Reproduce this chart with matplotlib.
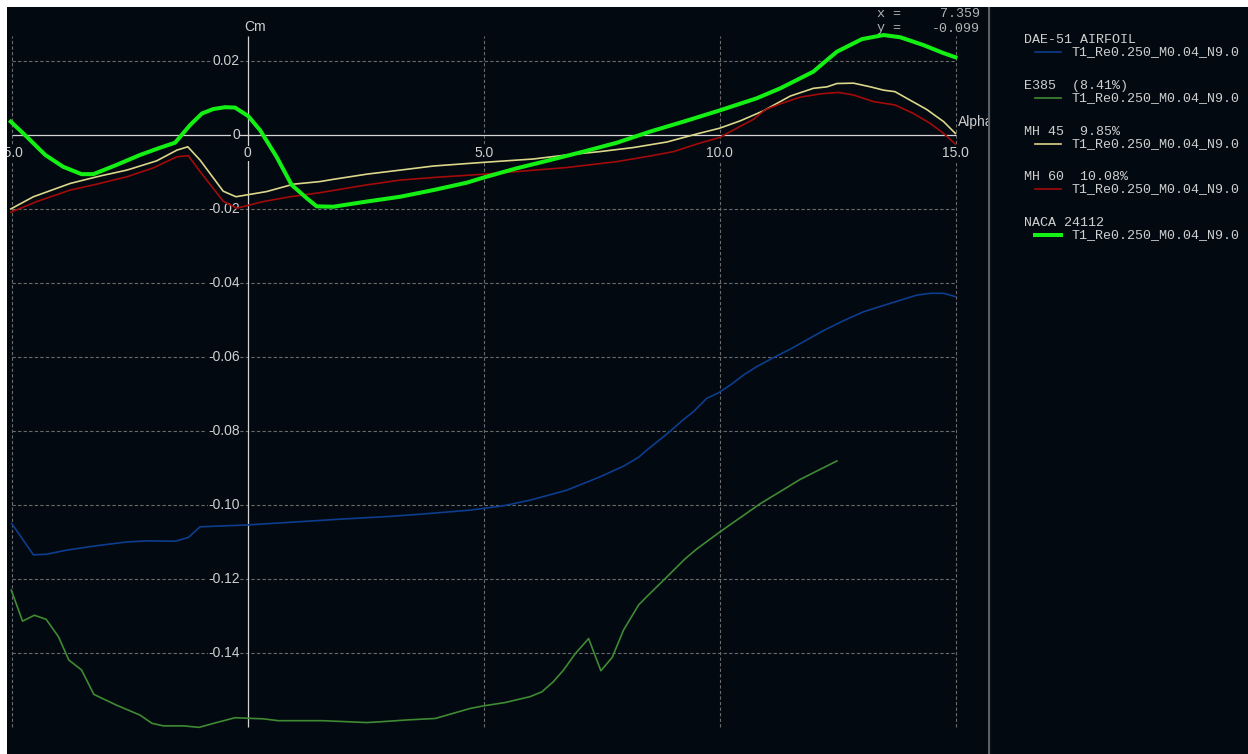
import matplotlib
matplotlib.use("Agg")
import matplotlib.pyplot as plt
from matplotlib.patches import Rectangle
from matplotlib.transforms import offset_copy

# Cm vs alpha polars, Re 250k
dae51_alpha = [-5.0, -4.54, -4.26, -3.83, -3.2, -2.56, -2.14, -1.54, -1.26, -1.01, -0.02, 1.0, 2.0, 3.0,
               3.65, 4.71, 5.42, 5.98, 6.76, 7.46, 7.96, 8.28, 8.45, 8.88, 9.23, 9.44, 9.72, 9.97, 10.22,
               10.5, 10.78, 11.21, 11.49, 11.77, 12.19, 12.62, 13.04, 13.61, 14.17, 14.46, 14.74, 14.99]
dae51_cm = [-0.1049, -0.1134, -0.1132, -0.1121, -0.1109, -0.1099, -0.1096, -0.1097, -0.1087, -0.1058,
            -0.1053, -0.1045, -0.1037, -0.1030, -0.1024, -0.1013, -0.1001, -0.0986, -0.0959, -0.0923,
            -0.0894, -0.0870, -0.0851, -0.0807, -0.0768, -0.0747, -0.0711, -0.0696, -0.0675, -0.0648,
            -0.0625, -0.0596, -0.0578, -0.0558, -0.0528, -0.0501, -0.0477, -0.0454, -0.0432, -0.0427,
            -0.0427, -0.0436]

e385_alpha = [-5.01, -4.77, -4.52, -4.27, -4.01, -3.79, -3.52, -3.26, -2.78, -2.28, -2.03, -1.79, -1.36,
              -1.03, -0.66, -0.27, 0.33, 0.65, 1.6, 2.52, 2.8, 3.37, 3.97, 4.71, 4.99, 5.45, 5.98, 6.23,
              6.47, 6.69, 6.93, 7.22, 7.48, 7.72, 7.96, 8.28, 8.45, 8.81, 9.26, 9.51, 10.01, 10.85, 11.7,
              12.48]
e385_cm = [-0.1229, -0.1313, -0.1297, -0.1308, -0.1355, -0.1418, -0.1445, -0.1511, -0.1540, -0.1567,
           -0.1589, -0.1596, -0.1596, -0.1600, -0.1587, -0.1574, -0.1577, -0.1582, -0.1582, -0.1587,
           -0.1585, -0.1580, -0.1576, -0.1549, -0.1542, -0.1533, -0.1517, -0.1504, -0.1477, -0.1445,
           -0.1402, -0.1360, -0.1447, -0.1411, -0.1337, -0.1269, -0.1247, -0.1202, -0.1145, -0.1118,
           -0.1071, -0.0996, -0.0930, -0.0880]

mh45_alpha = [-5.02, -4.54, -3.76, -3.13, -2.56, -1.93, -1.5, -1.27, -1.01, -0.52, -0.25, 0.4, 0.97,
              1.53, 1.81, 2.52, 3.23, 3.93, 5.0, 6.05, 6.76, 7.46, 8.17, 8.88, 9.55, 9.99, 10.43, 10.92,
              11.49, 11.98, 12.27, 12.48, 12.83, 13.19, 13.47, 13.71, 13.96, 14.38, 14.74, 14.99]
mh45_cm = [-0.0199, -0.0166, -0.0130, -0.0110, -0.0094, -0.0069, -0.0040, -0.0031, -0.0067, -0.0151,
           -0.0166, -0.0152, -0.0132, -0.0125, -0.0119, -0.0105, -0.0094, -0.0083, -0.0073, -0.0064,
           -0.0053, -0.0044, -0.0033, -0.0018, 0.0005, 0.0019, 0.0039, 0.0066, 0.0106, 0.0127, 0.0131,
           0.0140, 0.0141, 0.0131, 0.0122, 0.0118, 0.0100, 0.0070, 0.0037, 0.0005]

mh60_alpha = [-5.02, -4.47, -3.76, -3.2, -2.56, -2.0, -1.5, -1.26, -1.01, -0.52, -0.23, 0.33, 0.9, 1.53,
              2.52, 3.23, 3.93, 5.0, 5.7, 6.76, 7.82, 8.52, 9.02, 9.55, 9.99, 10.43, 10.71, 10.96, 11.28,
              11.7, 12.13, 12.51, 12.83, 13.26, 13.71, 14.1, 14.46, 14.74, 14.99]
mh60_cm = [-0.0208, -0.0179, -0.0148, -0.0132, -0.0112, -0.0088, -0.0058, -0.0055, -0.0098, -0.0178,
           -0.0197, -0.0179, -0.0166, -0.0155, -0.0134, -0.0121, -0.0114, -0.0105, -0.0098, -0.0087,
           -0.0071, -0.0056, -0.0044, -0.0022, -0.0006, 0.0024, 0.0043, 0.0069, 0.0085, 0.0103, 0.0112,
           0.0116, 0.0109, 0.0091, 0.0082, 0.0059, 0.0032, 0.0005, -0.0024]

naca_alpha = [-5.02, -4.68, -4.29, -3.91, -3.52, -3.27, -2.78, -2.28, -1.89, -1.54, -1.22, -0.97, -0.73,
              -0.48, -0.27, 0.01, 0.26, 0.61, 0.93, 1.25, 1.46, 1.81, 2.52, 3.23, 3.93, 4.64, 5.0, 5.7,
              6.4, 7.11, 7.82, 8.52, 9.23, 9.99, 10.78, 11.28, 11.98, 12.19, 12.48, 13.01, 13.47, 13.82,
              14.31, 14.74, 14.99]
naca_cm = [0.0037, -0.0004, -0.0053, -0.0085, -0.0105, -0.0105, -0.0080, -0.0053, -0.0035, -0.0020,
           0.0028, 0.0059, 0.0071, 0.0076, 0.0075, 0.0052, 0.0014, -0.0058, -0.0134, -0.0170, -0.0192,
           -0.0193, -0.0179, -0.0166, -0.0148, -0.0128, -0.0114, -0.0089, -0.0067, -0.0044, -0.0020,
           0.0010, 0.0037, 0.0067, 0.0100, 0.0127, 0.0172, 0.0195, 0.0226, 0.0260, 0.0271, 0.0265,
           0.0244, 0.0222, 0.0211]

foils = ["DAE-51 AIRFOIL", "E385  (8.41%)", "MH 45  9.85%", "MH 60  10.08%", "NACA 24112"]
polar_name = "T1_Re0.250_M0.04_N9.0"
colors = ["#0d3d8e", "#3f8a33", "#dcd68a", "#a30a0a", "#14f014"]
widths = [1.2, 1.2, 1.2, 1.2, 2.9]

x_ticks = [-5.0, 0.0, 5.0, 10.0, 15.0]
x_labels = ["-5.0", "0", "5.0", "10.0", "15.0"]
y_ticks = [0.02, 0.0, -0.02, -0.04, -0.06, -0.08, -0.10, -0.12, -0.14]
y_labels = ["0.02", "0", "-0.02", "-0.04", "-0.06", "-0.08", "-0.10", "-0.12", "-0.14"]

BG = "#020910"
GRID = "#6a6a6a"
AXIS = "#d4d4d4"
TXT = "#cfcfcf"
W, H = 1248, 754

plt.rcParams["font.family"] = ["Liberation Sans", "DejaVu Sans"]

fig = plt.figure(figsize=(W / 100, H / 100), dpi=100, facecolor=BG)
ax = fig.add_axes([0, 0, 988 / W, 1])
ax.set_facecolor(BG)
ax.axis("off")
ax.set_xlim(-5.248, 15.68)
ax.set_ylim(-0.1672, 0.03657)

xmin, xmax = -5.0, 15.0
ymin, ymax = -0.160, 0.0268
dash = (0, (3, 2))

# grid and axes lines
ax.vlines([x for x in x_ticks if x != 0], ymin, ymax, colors=GRID, linestyles=dash, lw=0.8, zorder=1)
ax.hlines([y for y in y_ticks if y != 0], xmin, xmax, colors=GRID, linestyles=dash, lw=0.8, zorder=1)
ax.hlines(0, xmin, xmax, colors=AXIS, lw=0.9, zorder=1)
ax.vlines(0, ymin, ymax, colors=AXIS, lw=0.9, zorder=1)


def label(x, y, s, dx, dy, **kw):
    tr = offset_copy(ax.transData, fig=fig, x=dx, y=dy, units="dots")
    opts = dict(color=TXT, fontsize=10, va="center", zorder=1.5, transform=tr)
    opts.update(kw)
    return ax.text(x, y, s, **opts)


box = dict(facecolor=BG, edgecolor="none", pad=0.5)
for y, lab in zip(y_ticks, y_labels):
    label(0, y, lab, -8, 0, ha="right", bbox=box)
for x, lab in zip(x_ticks, x_labels):
    label(x, 0, lab, 0, -18, ha="center", bbox=box)

label(0, ymax, "Cm", 7, 9, ha="center")
label(xmax, 0, "Alpha", 2, 13, ha="left", clip_on=True)

series = [(dae51_alpha, dae51_cm), (e385_alpha, e385_cm), (mh45_alpha, mh45_cm),
          (mh60_alpha, mh60_cm), (naca_alpha, naca_cm)]
for (a, cm), c, lw in zip(series, colors, widths):
    ax.plot(a, cm, color=c, lw=lw, solid_joinstyle="round", zorder=3)

# cursor readout
mono = ["Liberation Mono", "DejaVu Sans Mono"]
for row, (k, v) in enumerate([("x =", "7.359"), ("y =", "-0.099")]):
    yy = 1 - (14 + 14.5 * row) / H
    fig.text(877 / W, yy, k, family=mono, fontsize=9.6, color="#b4b4b4", va="center")
    fig.text(980 / W, yy, v, family=mono, fontsize=9.6, color="#b4b4b4", va="center", ha="right")

# legend panel
lax = fig.add_axes([988 / W, 0, 1 - 988 / W, 1])
lax.axis("off")
lax.set_xlim(988, W)
lax.set_ylim(H, 0)
lax.axvline(989, color="#5a6064", lw=1.6)
for i, (name, c, lw) in enumerate(zip(foils, colors, widths)):
    y0 = 40 + 45.8 * i
    lax.text(1024, y0, name, family=mono, fontsize=9.6, color=TXT, va="center")
    lax.plot([1035, 1061], [y0 + 12, y0 + 12], color=c, lw=lw)
    lax.text(1072, y0 + 12, polar_name, family=mono, fontsize=9.6, color=TXT, va="center")

# white margin along top and left edges
fig.patches.append(Rectangle((0, 1 - 7 / H), 1, 7 / H, transform=fig.transFigure,
                             facecolor="white", edgecolor="none", zorder=20))
fig.patches.append(Rectangle((0, 0), 7 / W, 1, transform=fig.transFigure,
                             facecolor="white", edgecolor="none", zorder=20))

fig.savefig("out.png", dpi=100, facecolor=BG)
